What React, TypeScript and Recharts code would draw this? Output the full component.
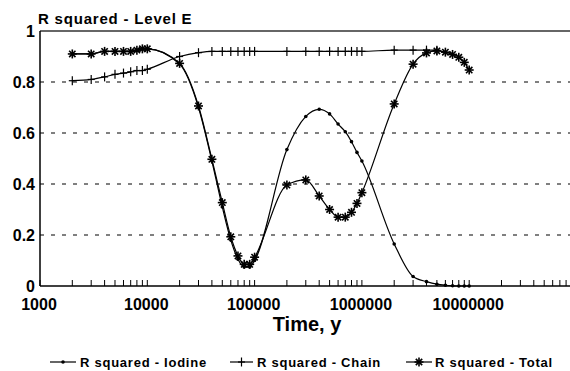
import React from "react";
import { LineChart, Line, XAxis, YAxis, ReferenceLine } from "recharts";

// time points, y
const times = [
  2000, 3000, 4000, 5000, 6000, 7000, 8000, 9000, 10000,
  20000, 30000, 40000, 50000, 60000, 70000, 80000, 90000, 100000,
  200000, 300000, 400000, 500000, 600000, 700000, 800000, 900000, 1000000,
  2000000, 3000000, 4000000, 5000000, 6000000, 7000000, 8000000, 9000000, 10000000,
];
const iodine = [
  0.91, 0.91, 0.92, 0.92, 0.92, 0.92, 0.925, 0.93, 0.93,
  0.87, 0.7, 0.49, 0.31, 0.18, 0.105, 0.075, 0.075, 0.1,
  0.535, 0.665, 0.693, 0.675, 0.635, 0.605, 0.566, 0.524, 0.49,
  0.165, 0.037, 0.017, 0.007, 0.003, 0.001, 0, 0, 0,
];
const chain = [
  0.805, 0.81, 0.82, 0.83, 0.835, 0.84, 0.845, 0.845, 0.85,
  0.9, 0.915, 0.92, 0.92, 0.92, 0.92, 0.92, 0.92, 0.92,
  0.92, 0.92, 0.92, 0.92, 0.92, 0.92, 0.92, 0.92, 0.92,
  0.925, 0.925, 0.925, 0.925, null, null, null, null, null,
];
const total = [
  0.91, 0.91, 0.92, 0.92, 0.92, 0.92, 0.925, 0.93, 0.93,
  0.873, 0.706, 0.497, 0.327, 0.193, 0.118, 0.085, 0.085, 0.113,
  0.396, 0.416, 0.353, 0.3, 0.27, 0.27, 0.289, 0.324, 0.366,
  0.714, 0.87, 0.914, 0.922, 0.917, 0.908, 0.897, 0.877, 0.847,
];

const seriesNames = ["R squared - Iodine", "R squared - Chain", "R squared - Total"];
const yTicks = [0, 0.2, 0.4, 0.6, 0.8, 1];
const gridValues = [0.2, 0.4, 0.6, 0.8];
const decades = [1000, 10000, 100000, 1000000, 10000000];
const multipliers = [1, 2, 3, 4, 5, 6, 7, 8, 9];
const xMax = 87000000;

const xTicks = decades.flatMap((d) => multipliers.map((m) => d * m)).filter((t) => t <= xMax);

const data = times.map((t, i) => ({ t, iodine: iodine[i], chain: chain[i], total: total[i] }));

const FONT = '"Liberation Sans", Arial, Helvetica, sans-serif';

function XTick(props: any) {
  const { x, y, payload } = props;
  const isDecade = decades.includes(payload.value);
  return (
    <g>
      <line x1={x} x2={x} y1={y} y2={y - 6} stroke="#000" strokeWidth={1} />
      {isDecade && (
        <text x={x - 1} y={y + 24} textAnchor="middle" fontSize={16} fontWeight={700} fontFamily={FONT} fill="#000">
          {payload.value}
        </text>
      )}
    </g>
  );
}

function SmallDot({ cx, cy }: { cx: number; cy: number }) {
  return <circle cx={cx} cy={cy} r={1.8} fill="#000" />;
}

function Cross({ cx, cy }: { cx: number; cy: number }) {
  return (
    <g stroke="#000" strokeWidth={1.2}>
      <line x1={cx} x2={cx} y1={cy - 4.5} y2={cy + 4.5} />
      <line x1={cx - 3.5} x2={cx + 3.5} y1={cy} y2={cy} />
    </g>
  );
}

function Asterisk({ cx, cy }: { cx: number; cy: number }) {
  const r = 4.5;
  const d = r * 0.707;
  return (
    <g stroke="#000" strokeWidth={1.6}>
      <line x1={cx - r} x2={cx + r} y1={cy} y2={cy} />
      <line x1={cx} x2={cx} y1={cy - r} y2={cy + r} />
      <line x1={cx - d} x2={cx + d} y1={cy - d} y2={cy + d} />
      <line x1={cx - d} x2={cx + d} y1={cy + d} y2={cy - d} />
    </g>
  );
}

const dotFor = (Shape: any) => (p: any) => {
  const key = `${p.dataKey}-${p.index}`;
  if (p.cx == null || p.cy == null || p.value == null) return <g key={key} />;
  return (
    <g key={key}>
      <Shape cx={p.cx} cy={p.cy} />
    </g>
  );
};

const legendItems = [
  { name: seriesNames[0], x0: 50, x1: 76, tx: 80, Shape: SmallDot },
  { name: seriesNames[1], x0: 230, x1: 253, tx: 257, Shape: Cross },
  { name: seriesNames[2], x0: 406, x1: 432, tx: 435, Shape: Asterisk },
];

export default function App() {
  return (
    <div style={{ position: "absolute", left: 0, top: 0, width: 570, height: 371, background: "#fff" }}>
      <LineChart width={570} height={371} data={data} margin={{ top: 31, right: 0, bottom: 55, left: 0 }}>
        <XAxis
          dataKey="t"
          type="number"
          scale="log"
          domain={[1000, xMax]}
          allowDataOverflow
          ticks={xTicks}
          interval={0}
          tick={XTick}
          tickLine={false}
          tickSize={0}
          tickMargin={0}
          height={30}
          axisLine={{ stroke: "#000", strokeWidth: 1.5 }}
        />
        <YAxis
          type="number"
          domain={[0, 1]}
          ticks={yTicks}
          interval={0}
          width={40}
          tickLine={false}
          tickSize={0}
          tickMargin={5}
          axisLine={{ stroke: "#000", strokeWidth: 1.5 }}
          tick={{ fill: "#000", fontSize: 16, fontWeight: 700, fontFamily: FONT }}
        />
        {gridValues.map((v) => (
          <ReferenceLine key={v} y={v} stroke="#000" strokeWidth={1} strokeDasharray="4 7" />
        ))}
        <ReferenceLine y={1} stroke="#333" strokeWidth={1.5} />
        <Line
          dataKey="iodine"
          name={seriesNames[0]}
          type="monotone"
          stroke="#000"
          strokeWidth={1.2}
          dot={dotFor(SmallDot)}
          activeDot={false}
          isAnimationActive={false}
        />
        <Line
          dataKey="chain"
          name={seriesNames[1]}
          type="monotone"
          stroke="#000"
          strokeWidth={1.2}
          dot={dotFor(Cross)}
          activeDot={false}
          isAnimationActive={false}
        />
        <Line
          dataKey="total"
          name={seriesNames[2]}
          type="monotone"
          stroke="#000"
          strokeWidth={1.2}
          dot={dotFor(Asterisk)}
          activeDot={false}
          isAnimationActive={false}
        />
      </LineChart>
      <svg
        width={570}
        height={371}
        style={{ position: "absolute", left: 0, top: 0, pointerEvents: "none" }}
        fontFamily={FONT}
        fontWeight={700}
        fill="#000"
      >
        <text x={38} y={23.5} fontSize={15} letterSpacing={0.8}>
          R squared - Level E
        </text>
        <text x={307} y={330.5} fontSize={20} textAnchor="middle">
          Time, y
        </text>
        {legendItems.map(({ name, x0, x1, tx, Shape }) => (
          <g key={name}>
            <line x1={x0} x2={x1} y1={362} y2={362} stroke="#000" strokeWidth={1.2} />
            <Shape cx={(x0 + x1) / 2} cy={362} />
            <text x={tx} y={367} fontSize={13} letterSpacing={0.75}>
              {name}
            </text>
          </g>
        ))}
      </svg>
    </div>
  );
}
